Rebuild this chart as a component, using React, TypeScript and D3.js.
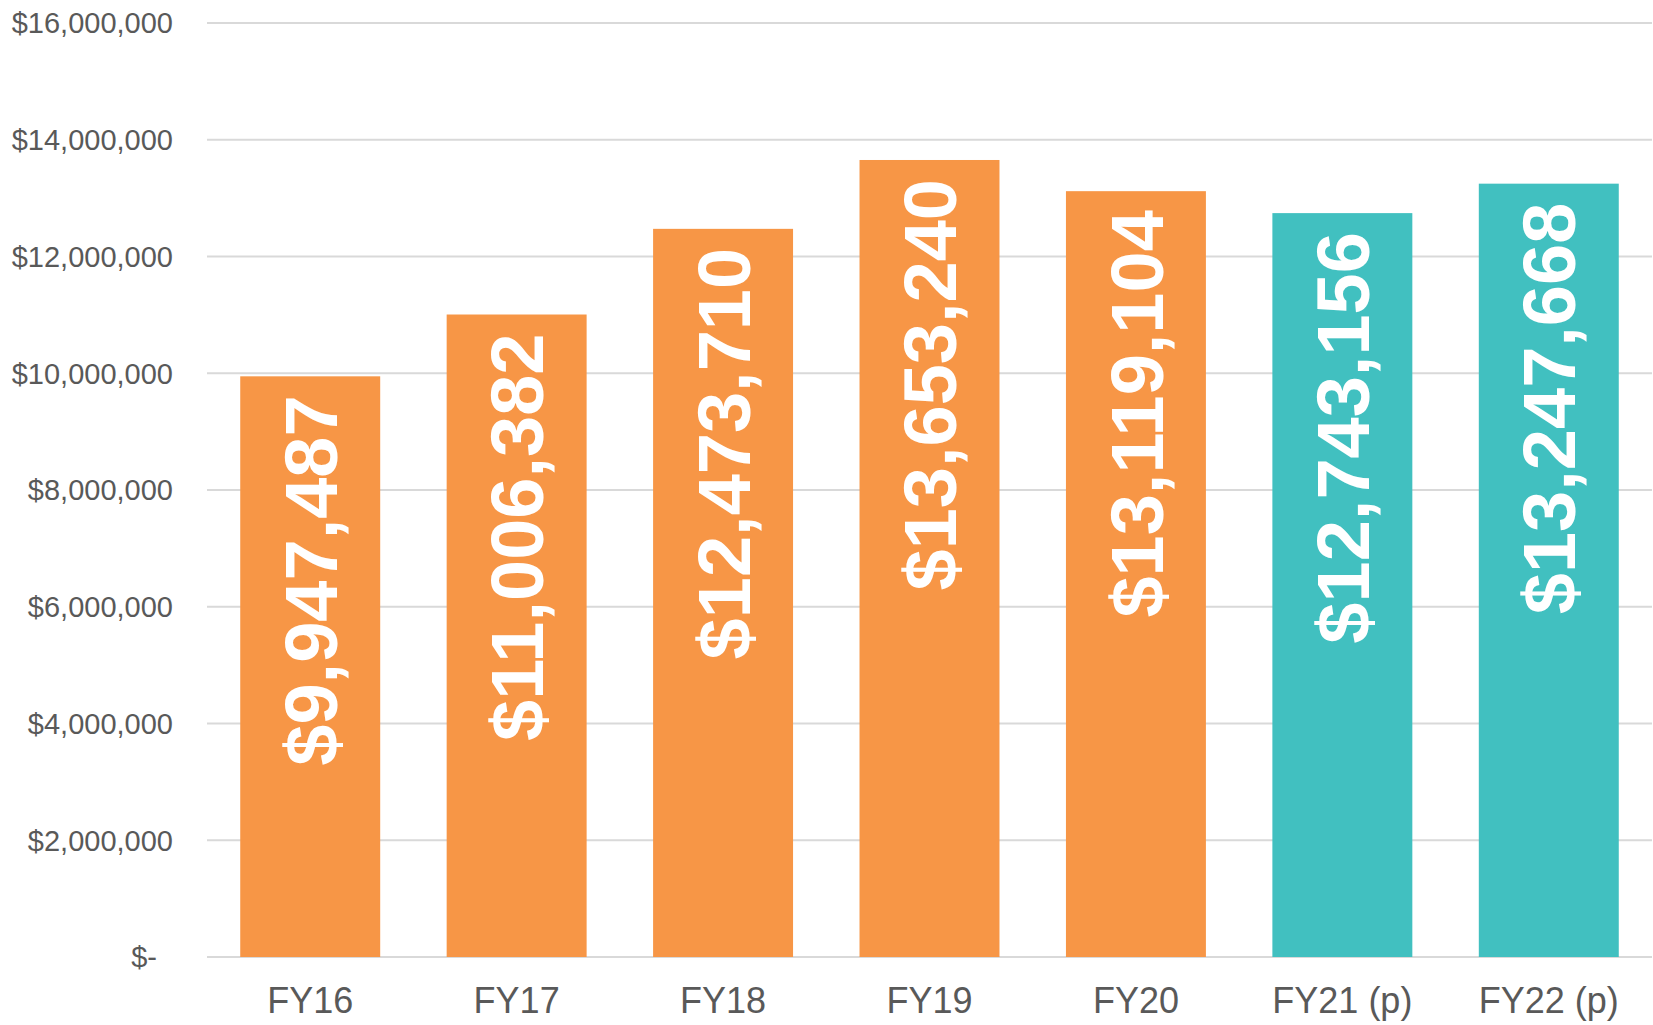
import React, { useEffect, useRef } from "react";
import * as d3 from "d3";

const categories = ["FY16", "FY17", "FY18", "FY19", "FY20", "FY21 (p)", "FY22 (p)"];
const values = [9947487, 11006382, 12473710, 13653240, 13119104, 12743156, 13247668];
const projected = [false, false, false, false, false, true, true];
const yTicks = [0, 2000000, 4000000, 6000000, 8000000, 10000000, 12000000, 14000000, 16000000];

const App = () => {
  const svgRef = useRef<SVGSVGElement>(null);
  const width = 1653;
  const height = 1025;

  useEffect(() => {
    document.body.style.margin = "0";
    const svg = d3.select(svgRef.current);
    svg.selectAll("*").remove();

    const margin = { top: 23, right: 1, bottom: 68, left: 207 };

    const x = d3
      .scaleBand()
      .domain(categories)
      .range([margin.left, width - margin.right])
      .paddingInner(0.322)
      .paddingOuter(0.161);

    const y = d3
      .scaleLinear()
      .domain([0, 16000000])
      .range([height - margin.bottom, margin.top]);

    // gridlines
    svg
      .append("g")
      .selectAll("line")
      .data(yTicks)
      .enter()
      .append("line")
      .attr("x1", margin.left)
      .attr("x2", width - margin.right)
      .attr("y1", (d) => y(d))
      .attr("y2", (d) => y(d))
      .attr("stroke", "#d9d9d9")
      .attr("stroke-width", 2);

    // y labels (accounting style: zero shown as "$-" with a bit of right padding)
    const fmt = d3.format(",");
    svg
      .append("g")
      .selectAll("text")
      .data(yTicks)
      .enter()
      .append("text")
      .attr("x", (d) => (d === 0 ? 157 : 173))
      .attr("y", (d) => y(d))
      .attr("dy", "0.36em")
      .attr("text-anchor", "end")
      .attr("font-family", "Liberation Sans, Arial, sans-serif")
      .attr("font-size", 29)
      .attr("fill", "#595959")
      .text((d) => (d === 0 ? "$-" : `$${fmt(d)}`));

    const data = categories.map((c, i) => ({ c, v: values[i], p: projected[i] }));

    // bars
    svg
      .append("g")
      .selectAll("rect")
      .data(data)
      .enter()
      .append("rect")
      .attr("x", (d) => x(d.c)!)
      .attr("width", x.bandwidth())
      .attr("y", (d) => y(d.v))
      .attr("height", (d) => y(0) - y(d.v))
      .attr("fill", (d) => (d.p ? "#41c0c0" : "#f79646"));

    // value labels, rotated inside the top of each bar
    svg
      .append("g")
      .selectAll("text")
      .data(data)
      .enter()
      .append("text")
      .attr("transform", (d) => `translate(${x(d.c)! + x.bandwidth() / 2},${y(d.v) + 19}) rotate(-90)`)
      .attr("dy", "0.36em")
      .attr("text-anchor", "end")
      .attr("font-family", "Liberation Sans, Arial, sans-serif")
      .attr("font-weight", "bold")
      .attr("font-size", 74)
      .attr("fill", "#ffffff")
      .text((d) => `$${fmt(d.v)}`);

    // x labels
    svg
      .append("g")
      .selectAll("text")
      .data(categories)
      .enter()
      .append("text")
      .attr("x", (d) => x(d)! + x.bandwidth() / 2)
      .attr("y", 1013)
      .attr("text-anchor", "middle")
      .attr("font-family", "Liberation Sans, Arial, sans-serif")
      .attr("font-size", 36)
      .attr("fill", "#595959")
      .text((d) => d);
  }, []);

  return <svg ref={svgRef} width={width} height={height} style={{ display: "block" }}></svg>;
};

export default App;
